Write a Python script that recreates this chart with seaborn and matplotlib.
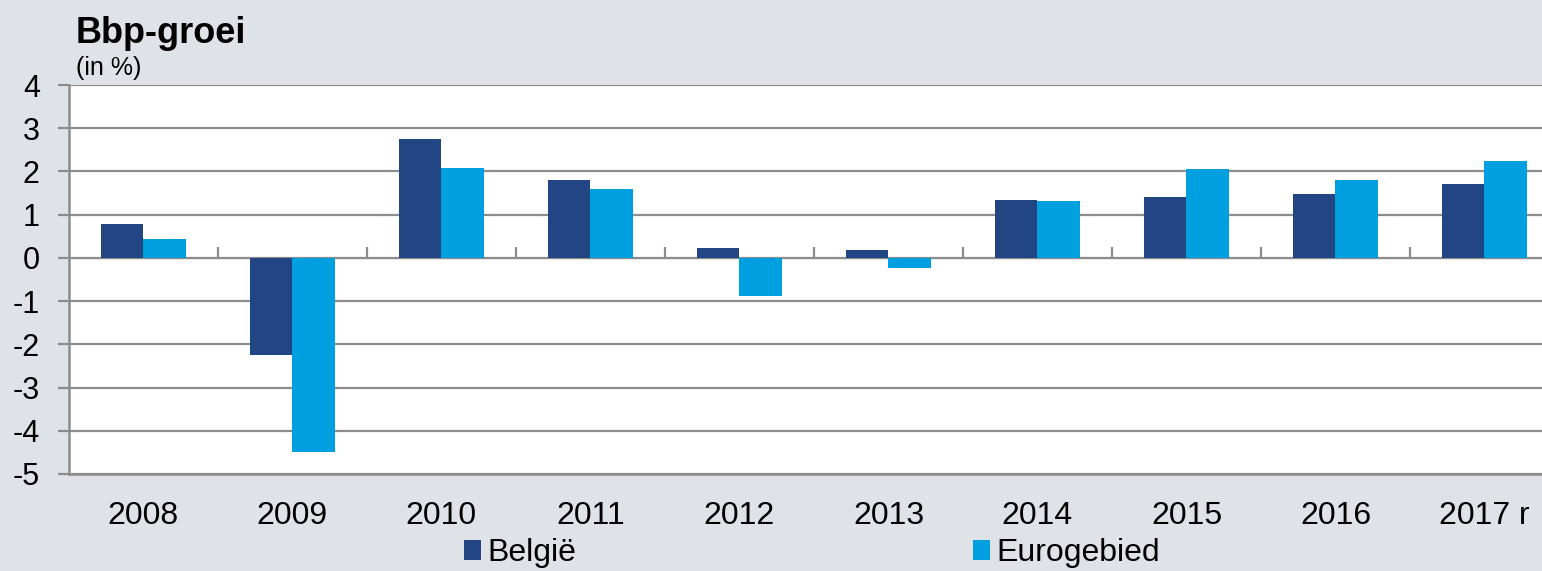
import pandas as pd
import numpy as np
import matplotlib
matplotlib.use("Agg")
import matplotlib.pyplot as plt
import seaborn as sns

# Bbp-groei, in %
years = ["2008", "2009", "2010", "2011", "2012", "2013", "2014", "2015", "2016", "2017 r"]
belgie = [0.79, -2.25, 2.75, 1.80, 0.23, 0.19, 1.34, 1.41, 1.47, 1.70]
eurogebied = [0.44, -4.50, 2.08, 1.60, -0.88, -0.23, 1.32, 2.06, 1.80, 2.24]
series_names = ["België", "Eurogebied"]
colors = ["#224583", "#009fe0"]

df = pd.DataFrame({
    "year": years * 2,
    "value": belgie + eurogebied,
    "series": [series_names[0]] * len(years) + [series_names[1]] * len(years),
})

sns.set_style("white")
plt.rcParams["font.family"] = ["Liberation Sans", "DejaVu Sans"]
plt.rcParams["axes.unicode_minus"] = False
plt.rcParams["text.color"] = "black"

bg = "#dfe3e8"
grid_col = "#8c8c8c"

fig = plt.figure(figsize=(15.42, 5.71), dpi=100, facecolor=bg)
# plot area runs a little past the right edge of the picture, as in the original
ax = fig.add_axes([0.0447, 0.170, 0.9663, 0.681])
ax.set_facecolor("white")

sns.barplot(data=df, x="year", y="value", hue="series", order=years,
            hue_order=series_names, palette=colors, width=0.57,
            saturation=1, edgecolor="none", ax=ax, legend=True)

ax.set_ylim(-5, 4)
ax.set_xlim(-0.5, len(years) - 0.5)
ax.set_yticks(range(-5, 5))
ax.set_yticklabels([str(v) for v in range(-5, 5)])
ax.yaxis.grid(True, color=grid_col, linewidth=1.6)
ax.set_axisbelow(True)

for side in ["top", "right"]:
    ax.spines[side].set_visible(False)
for side in ["left", "bottom"]:
    ax.spines[side].set_color(grid_col)
    ax.spines[side].set_linewidth(1.8)

ax.tick_params(axis="y", left=True, length=8, width=1.6, color=grid_col,
               labelsize=22, pad=13, labelcolor="black")
ax.tick_params(axis="x", bottom=False, labelsize=23, pad=16, labelcolor="black")
ax.set_xlabel("")
ax.set_ylabel("")

# zero line with category separator ticks
zero = ax.secondary_xaxis(5 / 9)
zero.set_xticks(np.arange(len(years) - 1) + 0.5)
zero.set_xticklabels([])
zero.tick_params(length=8, width=1.6, color=grid_col, direction="out")
zero.spines["bottom"].set_color(grid_col)
zero.spines["bottom"].set_linewidth(1.8)

ax.get_legend().remove()
handles, labels = ax.get_legend_handles_labels()
fig.legend(handles[:2], labels[:2], loc="center", bbox_to_anchor=(0.5266, 0.031),
           ncol=2, frameon=False, fontsize=23, handlelength=0.53,
           handleheight=0.56, handletextpad=0.2, columnspacing=12.4,
           borderaxespad=0)

fig.text(0.049, 0.925, "Bbp-groei", fontsize=26, fontweight="bold", va="baseline")
fig.text(0.049, 0.868, "(in %)", fontsize=18, va="baseline")

fig.savefig("out.png", dpi=100, facecolor=bg)
